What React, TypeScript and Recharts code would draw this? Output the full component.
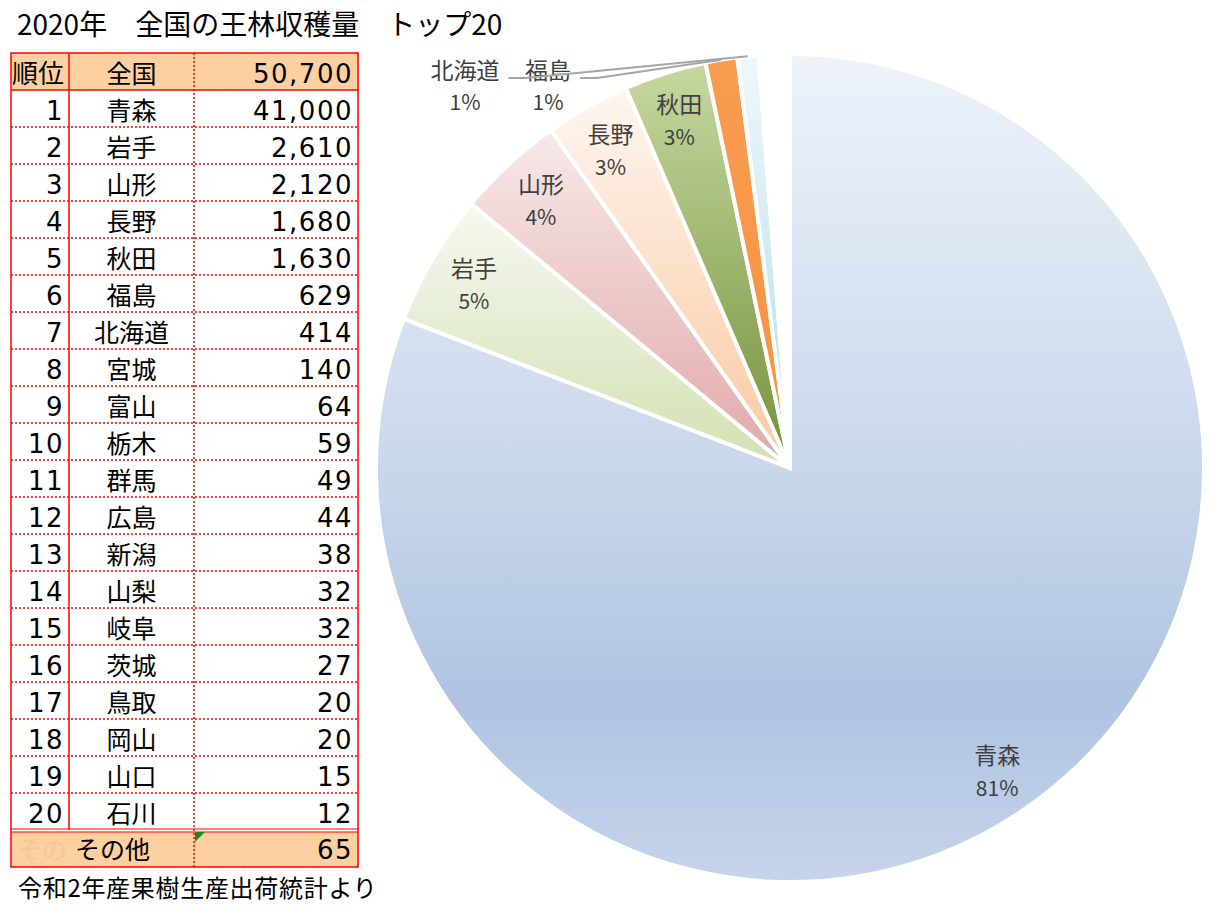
import { Cell, Pie, PieChart } from "recharts";

const prefectures = ["青森", "岩手", "山形", "長野", "秋田", "福島", "北海道", "宮城", "富山", "栃木", "群馬", "広島", "新潟", "山梨", "岐阜", "茨城", "鳥取", "岡山", "山口", "石川"];
const harvest = [41000, 2610, 2120, 1680, 1630, 629, 414, 140, 64, 59, 49, 44, 38, 32, 32, 27, 20, 20, 15, 12];
const otherLabel = "その他";
const otherValue = 65;
const totalLabel = "全国";
const totalValue = 50700;

const titleText = "2020年　全国の王林収穫量　トップ20";
const sourceText = "令和2年産果樹生産出荷統計より";

const pieData = prefectures
    .map((name, i) => ({ name, value: harvest[i] }))
    .concat({ name: otherLabel, value: otherValue });

// gradient stops per labelled slice (top -> bottom)
const sliceGradients = [
    [["0", "#eef3fa"], ["0.5", "#c9d7eb"], ["0.78", "#afc3e1"], ["1", "#c6d4ea"]],
    [["0", "#f6f9f0"], ["1", "#d1e0b2"]],
    [["0", "#f7e9e9"], ["1", "#e1a7a7"]],
    [["0", "#fef6ef"], ["1", "#f9c8a0"]],
    [["0", "#c6d8a0"], ["1", "#74913a"]],
    [["0", "#f89c50"], ["1", "#f69240"]],
    [["0", "#eef8fb"], ["1", "#b4dbe7"]],
];

const RAD = Math.PI / 180;
const LABEL_FONT = "'Noto Sans CJK JP', 'Noto Sans', sans-serif";
const TABLE_NUM_FONT = "'DejaVu Sans', sans-serif";
const RED = "#ff0000";
const HEAD_BG = "#fdd0a1";

const renderLabel = (props: any) => {
    const { cx, cy, midAngle, outerRadius, percent, index, name } = props;
    if (index > 6) return null;
    const pct = `${Math.round(percent * 100)}%`;
    if (index >= 5) {
        // small slices: labels up above, with leader lines
        const slot = index - 5;
        const tx = cx - 242 - slot * 83;
        const ty = cy - outerRadius;
        const ex = cx + outerRadius * Math.cos(-midAngle * RAD);
        const ey = cy + outerRadius * Math.sin(-midAngle * RAD);
        const sx = tx + (name.length * 23) / 2 + 9;
        const sy = ty + 24;
        return (
            <g>
                <path d={`M${sx},${sy} L${sx + 17},${sy} L${ex},${ey}`} stroke="#a6a6a6" strokeWidth={2} fill="none" />
                <text x={tx} y={ty + 15} textAnchor="middle" dominantBaseline="central" fill="#404040" fontSize={23} fontFamily={LABEL_FONT}>{name}</text>
                <text x={tx} y={ty + 47} textAnchor="middle" dominantBaseline="central" fill="#404040" fontSize={21} fontFamily={LABEL_FONT}>{pct}</text>
            </g>
        );
    }
    const r = outerRadius * 0.885;
    const x = cx + r * Math.cos(-midAngle * RAD);
    const y = cy + r * Math.sin(-midAngle * RAD);
    return (
        <g>
            <text x={x} y={y - 16} textAnchor="middle" dominantBaseline="central" fill="#404040" fontSize={23} fontFamily={LABEL_FONT}>{name}</text>
            <text x={x} y={y + 17} textAnchor="middle" dominantBaseline="central" fill="#404040" fontSize={21} fontFamily={LABEL_FONT}>{pct}</text>
        </g>
    );
};

const fmt = (v: number) => v.toLocaleString("en-US");

const TableSheet = () => {
    const left = 11;
    const right = 358;
    const col1 = 69;
    const col2 = 194;
    const top = 53;
    const rowH = 37;
    const bodyTop = top + rowH;
    const bodyBottom = bodyTop + rowH * prefectures.length;
    const otherTop = bodyBottom + 2;
    const bottom = 867;
    const nameX = (col1 + col2) / 2;
    const numX = 353;
    const rankX = 64;

    return (
        <svg width={1215} height={916} style={{ position: "absolute", left: 0, top: 0 }}>
            <text x={17} y={35} fontSize={28} fontFamily={LABEL_FONT} fill="#000">{titleText}</text>

            <rect x={left} y={top} width={right - left} height={rowH} fill={HEAD_BG} />
            <rect x={left} y={otherTop} width={right - left} height={bottom - otherTop} fill={HEAD_BG} />

            {prefectures.slice(0, -1).map((_, i) => (
                <line key={i} x1={left} x2={right} y1={bodyTop + rowH * (i + 1)} y2={bodyTop + rowH * (i + 1)} stroke={RED} strokeWidth={1.5} strokeDasharray="2 2" />
            ))}
            <line x1={left} x2={right} y1={bodyTop} y2={bodyTop} stroke={RED} strokeWidth={1.5} />
            <line x1={left} x2={right} y1={bodyBottom - 1} y2={bodyBottom - 1} stroke={RED} strokeWidth={1.2} />
            <line x1={left} x2={right} y1={bodyBottom + 2} y2={bodyBottom + 2} stroke={RED} strokeWidth={1.2} />
            <line x1={col1} x2={col1} y1={top} y2={bodyBottom} stroke={RED} strokeWidth={1.5} />
            <line x1={col2} x2={col2} y1={top} y2={bottom} stroke={RED} strokeWidth={1.5} strokeDasharray="2 2" />
            <rect x={left} y={top} width={right - left} height={bottom - top} fill="none" stroke={RED} strokeWidth={1.5} />

            <text x={rankX} y={top + 30} textAnchor="end" fontSize={26} fontFamily={LABEL_FONT} fill="#000">順位</text>
            <text x={nameX} y={top + 30} textAnchor="middle" fontSize={25} fontFamily={LABEL_FONT} fill="#000">{totalLabel}</text>
            <text x={numX} y={top + 30} textAnchor="end" fontSize={26} letterSpacing={1.5} fontFamily={TABLE_NUM_FONT} fill="#000">{fmt(totalValue)}</text>

            {prefectures.map((name, i) => {
                const y = bodyTop + rowH * i + 30;
                return (
                    <g key={name}>
                        <text x={rankX} y={y} textAnchor="end" fontSize={26} letterSpacing={1.5} fontFamily={TABLE_NUM_FONT} fill="#000">{i + 1}</text>
                        <text x={nameX} y={y} textAnchor="middle" fontSize={25} fontFamily={LABEL_FONT} fill="#000">{name}</text>
                        <text x={numX} y={y} textAnchor="end" fontSize={26} letterSpacing={1.5} fontFamily={TABLE_NUM_FONT} fill="#000">{fmt(harvest[i])}</text>
                    </g>
                );
            })}

            <text x={17} y={otherTop + 27} fontSize={25} fontFamily={LABEL_FONT} fill="#f6c69e">{otherLabel.slice(0, 2)}</text>
            <text x={75} y={otherTop + 27} fontSize={25} fontFamily={LABEL_FONT} fill="#000">{otherLabel}</text>
            <text x={numX} y={otherTop + 27} textAnchor="end" fontSize={26} letterSpacing={1.5} fontFamily={TABLE_NUM_FONT} fill="#000">{fmt(otherValue)}</text>
            <polygon points={`${col2 + 1},${otherTop} ${col2 + 11},${otherTop} ${col2 + 1},${otherTop + 10}`} fill="#1a8a1a" />

            <text x={18} y={897} fontSize={24} letterSpacing={0.7} fontFamily={LABEL_FONT} fill="#000">{sourceText}</text>
        </svg>
    );
};

export default function App() {
    return (
        <div style={{ position: "absolute", left: 0, top: 0, width: 1215, height: 916, background: "#fff", overflow: "hidden" }}>
            <div style={{ position: "absolute", left: 0, top: 0 }}>
                <PieChart width={1215} height={916} margin={{ top: 0, right: 0, bottom: 0, left: 0 }}>
                    <defs>
                        {sliceGradients.map((stops, i) => (
                            <linearGradient key={i} id={`slice${i}`} x1="0" y1="0" x2="0" y2="1">
                                {stops.map(([o, c]) => (
                                    <stop key={o} offset={o} stopColor={c} />
                                ))}
                            </linearGradient>
                        ))}
                    </defs>
                    <Pie
                        data={pieData}
                        dataKey="value"
                        nameKey="name"
                        cx={790}
                        cy={468}
                        outerRadius={414}
                        startAngle={90}
                        endAngle={-270}
                        stroke="#ffffff"
                        strokeWidth={4}
                        label={renderLabel}
                        labelLine={false}
                        isAnimationActive={false}
                    >
                        {pieData.map((d, i) => (
                            <Cell key={d.name} fill={i < sliceGradients.length ? `url(#slice${i})` : "#ffffff"} />
                        ))}
                    </Pie>
                </PieChart>
            </div>
            <TableSheet />
        </div>
    );
}
